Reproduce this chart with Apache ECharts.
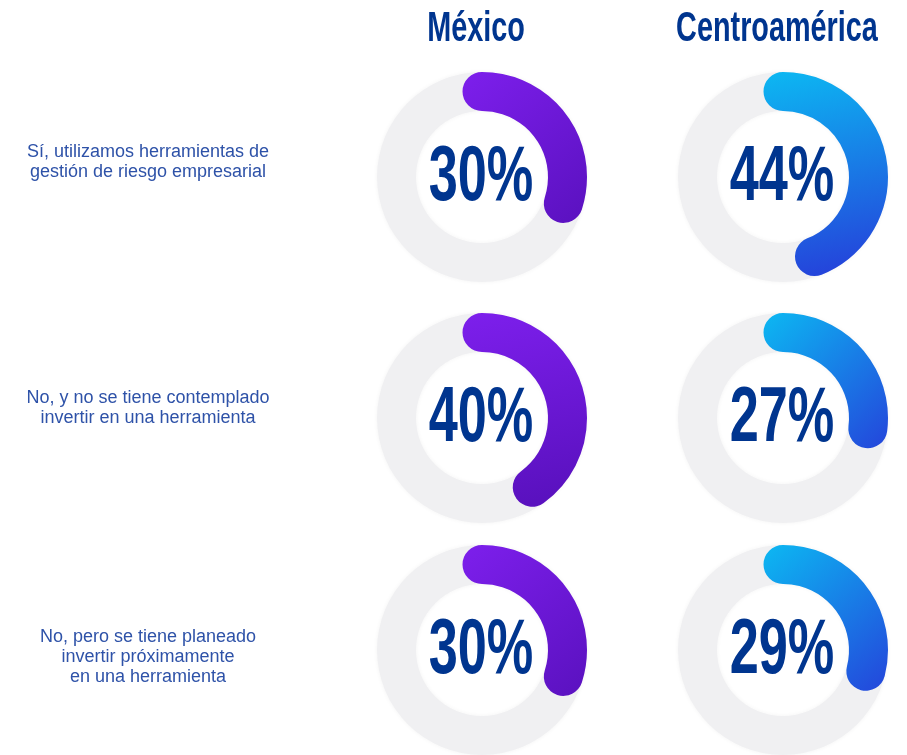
<!DOCTYPE html>
<html>
<head>
<meta charset="utf-8">
<style>
  html, body { margin: 0; padding: 0; background: #fff; }
  #chart { width: 907px; height: 755px; }
</style>
<script src="https://cdn.jsdelivr.net/npm/echarts@6/dist/echarts.min.js"></script>
</head>
<body>
<div id="chart"></div>
<script>
const regions = ["México", "Centroamérica"];
const answers = [
  "Sí, utilizamos herramientas de\ngestión de riesgo empresarial",
  "No, y no se tiene contemplado\ninvertir en una herramienta",
  "No, pero se tiene planeado\ninvertir próximamente\nen una herramienta",
];
const mexico = [30, 40, 30];
const centroamerica = [44, 27, 29];

// layout
const colX = [482, 783];
const rowY = [177, 418, 650];
const labelX = 148;
const labelY = [162, 408, 657];
const outerR = 105;
const band = 39;

const palettes = [
  ["#7D1FEC", "#5A11BF"],
  ["#0CB8F2", "#2445DB"],
];

const chart = echarts.init(document.getElementById("chart"), null, { renderer: "canvas" });

function gauge(cx, cy, value, colIdx) {
  const [c0, c1] = palettes[colIdx];
  const x2 = value > 35 ? 0.35 : 1;
  return {
    type: "gauge",
    center: [cx, cy],
    radius: outerR,
    startAngle: 90,
    endAngle: -270,
    min: 0,
    max: 100,
    pointer: { show: false },
    axisTick: { show: false },
    splitLine: { show: false },
    axisLabel: { show: false },
    title: { show: false },
    detail: { show: false },
    axisLine: {
      lineStyle: {
        width: band,
        color: [[1, "#F0F0F2"]],
        shadowColor: "rgba(0,0,0,0.05)",
        shadowBlur: 4,
      },
    },
    progress: {
      show: true,
      width: band,
      roundCap: true,
      itemStyle: {
        color: new echarts.graphic.LinearGradient(0, 0, x2, 1, [
          { offset: 0, color: c0 },
          { offset: 1, color: c1 },
        ]),
      },
    },
    data: [{ value }],
  };
}

const series = [];
const graphic = [];

regions.forEach((name, c) => {
  graphic.push({
    type: "text",
    x: colX[c] - 6,
    y: 29,
    scaleX: 0.67,
    style: {
      text: name,
      x: 0,
      y: 0,
      textAlign: "center",
      textVerticalAlign: "middle",
      fill: "#00358F",
      font: "bold 43px 'Liberation Sans'",
    },
  });
});

answers.forEach((txt, r) => {
  graphic.push({
    type: "text",
    x: labelX,
    y: labelY[r],
    style: {
      text: txt,
      x: 0,
      y: 0,
      textAlign: "center",
      textVerticalAlign: "middle",
      fill: "#2E52A8",
      font: "18px 'Liberation Sans'",
      lineHeight: 20,
    },
  });
  [mexico, centroamerica].forEach((vals, c) => {
    series.push(gauge(colX[c], rowY[r], vals[r], c));
    graphic.push({
      type: "text",
      x: colX[c] - 1,
      y: rowY[r] + 1,
      scaleX: 0.67,
      z: 10,
      style: {
        text: vals[r] + "%",
        x: 0,
        y: 0,
        textAlign: "center",
        textVerticalAlign: "middle",
        fill: "#00358F",
        font: "bold 78px 'Liberation Sans'",
      },
    });
  });
});

chart.setOption({
  animation: false,
  series,
  graphic,
});
</script>
</body>
</html>
